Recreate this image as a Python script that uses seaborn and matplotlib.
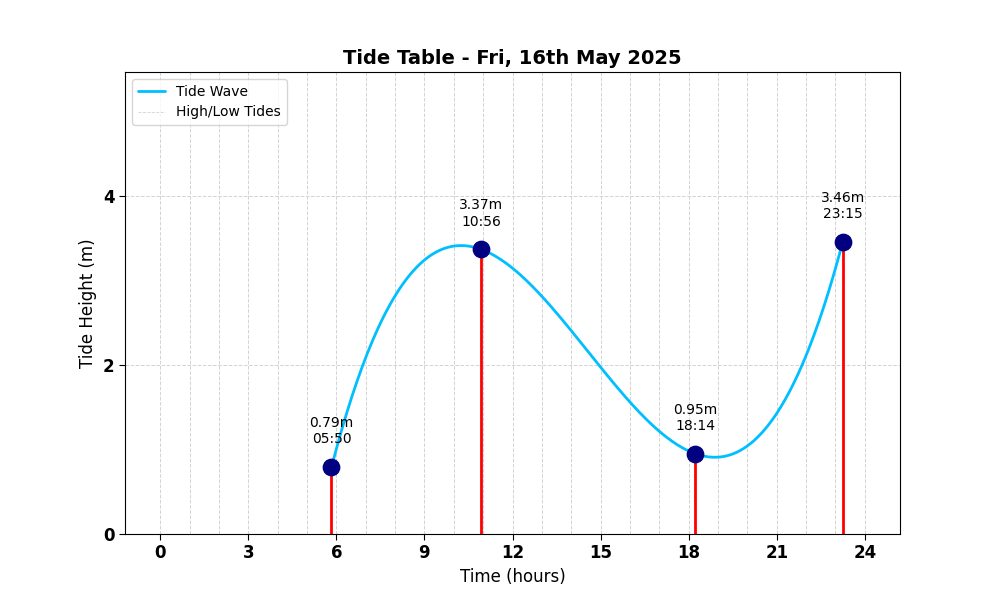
import numpy as np
import pandas as pd
import matplotlib
matplotlib.use("Agg")
import matplotlib.pyplot as plt
import seaborn as sns
from matplotlib.ticker import MultipleLocator

# heures des marées (hauteur en m)
tide_times = ["05:50", "10:56", "18:14", "23:15"]
tide_heights = [0.79, 3.37, 0.95, 3.46]
hour_lines = list(range(0, 25))

hours = [int(t.split(":")[0]) + int(t.split(":")[1]) / 60 for t in tide_times]
tides = pd.DataFrame({"hour": hours, "height": tide_heights, "time": tide_times})

# courbe lisse passant par les 4 points
coefs = np.polyfit(tides["hour"], tides["height"], 3)
xs = np.linspace(tides["hour"].min(), tides["hour"].max(), 300)
wave = pd.DataFrame({"hour": xs, "height": np.polyval(coefs, xs)})

sns.set_style("white")
plt.rcParams['font.family'] = ['DejaVu Sans']
for k in ["text.color", "axes.labelcolor", "xtick.color", "ytick.color"]:
    plt.rcParams[k] = "black"
fig, ax = plt.subplots(figsize=(10, 6), dpi=100)

# lignes verticales pour chaque heure
for h in hour_lines:
    ax.axvline(h, color="lightgrey", linestyle="--", linewidth=0.7, zorder=0)

sns.lineplot(data=wave, x="hour", y="height", color="deepskyblue", linewidth=2,
             label="Tide Wave", ax=ax, zorder=3)
ax.plot([], [], color="lightgrey", linestyle="--", linewidth=0.6, label="High/Low Tides")
ax.vlines(tides["hour"], 0, tides["height"], color="red", linewidth=2, zorder=4)
sns.scatterplot(data=tides, x="hour", y="height", color="navy", s=140, ax=ax,
                zorder=5, edgecolor="navy", legend=False)

for _, r in tides.iterrows():
    ax.annotate(f"{r['height']:.2f}m\n{r['time']}", (r["hour"], r["height"]),
                textcoords="offset points", xytext=(0, 15), ha="center",
                va="bottom", fontsize=10)

ax.set_xlim(-1.2, 25.2)
ax.set_ylim(0, 5.47)
ax.xaxis.set_major_locator(MultipleLocator(3))
ax.yaxis.set_major_locator(MultipleLocator(2))
ax.tick_params(axis="both", which="major", labelsize=12, length=4, direction="out",
               bottom=True, left=True)
for lab in ax.get_xticklabels() + ax.get_yticklabels():
    lab.set_fontweight("bold")
ax.grid(True, which="major", axis="y", color="lightgrey", linestyle="--", linewidth=0.7)

ax.set_title("Tide Table - Fri, 16th May 2025", fontsize=14, fontweight="bold")
ax.set_xlabel("Time (hours)", fontsize=12)
ax.set_ylabel("Tide Height (m)", fontsize=12)
ax.legend(loc="upper left")
for s in ax.spines.values():
    s.set_color("black")

plt.savefig("out.png")
